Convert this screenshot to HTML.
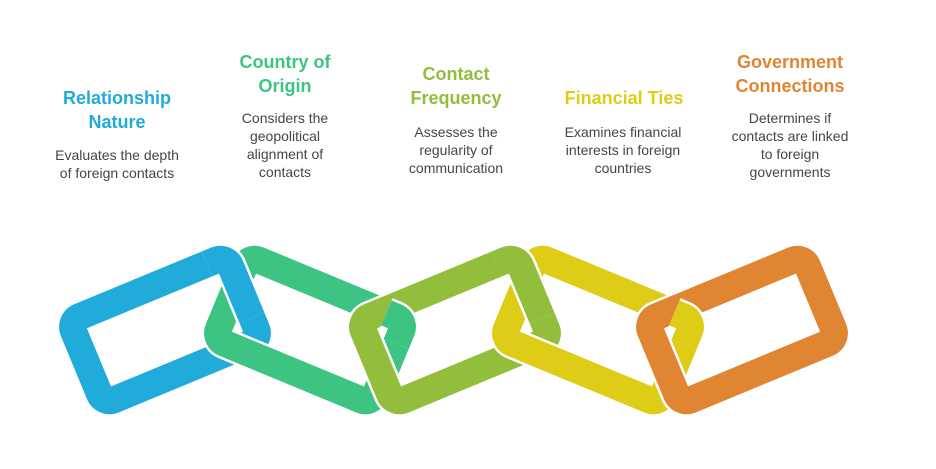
<!DOCTYPE html>
<html><head><meta charset="utf-8"><style>
html,body{margin:0;padding:0;background:#fff;}
svg{display:block;}
.t{font-family:"Liberation Sans",sans-serif;font-weight:bold;font-size:18px;text-anchor:middle;}
.d{font-family:"Liberation Sans",sans-serif;font-size:14px;fill:#454545;text-anchor:middle;}
</style></head><body>
<svg width="936" height="469" viewBox="0 0 936 469" xmlns="http://www.w3.org/2000/svg">
<defs>
<clipPath id="rs" clipPathUnits="userSpaceOnUse"><rect x="64" y="-90" width="60" height="112"/></clipPath>
<clipPath id="rs2" clipPathUnits="userSpaceOnUse"><rect x="64" y="-90" width="60" height="70"/></clipPath>
<g id="W"><rect x="-85" y="-45" width="170" height="90" rx="11" fill="none" stroke="#fff" stroke-width="32"/></g>
<g id="R"><rect x="-85" y="-45" width="170" height="90" rx="11" fill="none" stroke-width="27"/></g>
</defs>
<!-- blue -->
<g transform="translate(165,330) rotate(-22.5)"><use href="#R" stroke="#20ABDA"/></g>
<!-- green -->
<g transform="translate(310,330) rotate(22.5)"><use href="#W"/><use href="#R" stroke="#3DC483"/></g>
<g transform="translate(165,330) rotate(-22.5)"><g clip-path="url(#rs)"><use href="#W"/><use href="#R" stroke="#20ABDA"/></g></g>
<!-- lime -->
<g transform="translate(455,330) rotate(-22.5)"><use href="#W"/><use href="#R" stroke="#92BE3B"/></g>
<g transform="translate(310,330) rotate(22.5)"><g clip-path="url(#rs2)"><use href="#W"/><use href="#R" stroke="#3DC483"/></g></g>
<!-- yellow -->
<g transform="translate(598,330) rotate(22.5)"><use href="#W"/><use href="#R" stroke="#DFCC17"/></g>
<g transform="translate(455,330) rotate(-22.5)"><g clip-path="url(#rs)"><use href="#W"/><use href="#R" stroke="#92BE3B"/></g></g>
<!-- orange -->
<g transform="translate(742,330) rotate(-22.5)"><use href="#W"/><use href="#R" stroke="#E08532"/></g>
<g transform="translate(598,330) rotate(22.5)"><g clip-path="url(#rs2)"><use href="#W"/><use href="#R" stroke="#DFCC17"/></g></g>

<text class="t" fill="#20ABDA" x="117" y="104">Relationship</text>
<text class="t" fill="#20ABDA" x="117" y="128">Nature</text>
<text class="d" x="117" y="160">Evaluates the depth</text>
<text class="d" x="117" y="178">of foreign contacts</text>

<text class="t" fill="#3DC483" x="285" y="68">Country of</text>
<text class="t" fill="#3DC483" x="285" y="92">Origin</text>
<text class="d" x="285" y="123">Considers the</text>
<text class="d" x="285" y="141">geopolitical</text>
<text class="d" x="285" y="159">alignment of</text>
<text class="d" x="285" y="177">contacts</text>

<text class="t" fill="#92BE3B" x="456" y="80">Contact</text>
<text class="t" fill="#92BE3B" x="456" y="104">Frequency</text>
<text class="d" x="456" y="137">Assesses the</text>
<text class="d" x="456" y="155">regularity of</text>
<text class="d" x="456" y="173">communication</text>

<text class="t" fill="#DFCC17" x="624" y="104">Financial Ties</text>
<text class="d" x="623" y="137">Examines financial</text>
<text class="d" x="623" y="155">interests in foreign</text>
<text class="d" x="623" y="173">countries</text>

<text class="t" fill="#E08532" x="790" y="68">Government</text>
<text class="t" fill="#E08532" x="790" y="92">Connections</text>
<text class="d" x="790" y="123">Determines if</text>
<text class="d" x="790" y="141">contacts are linked</text>
<text class="d" x="790" y="159">to foreign</text>
<text class="d" x="790" y="177">governments</text>
</svg>
</body></html>
